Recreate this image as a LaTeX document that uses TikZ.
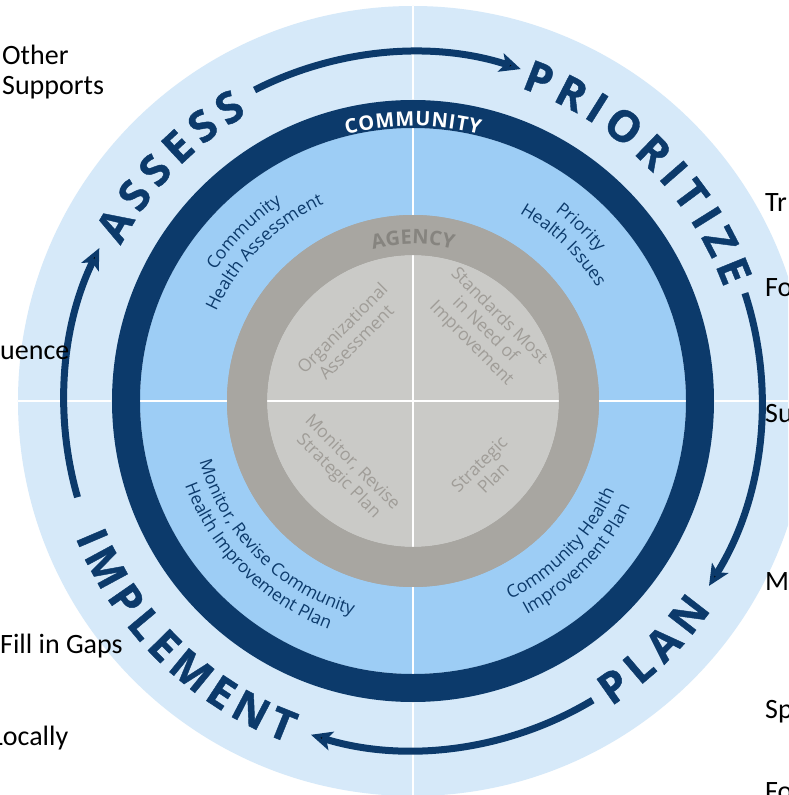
\documentclass[tikz,border=0pt]{standalone}
\usepackage{fontspec}
\setmainfont{Open Sans}
\newfontfamily\sidefont{Carlito}
\usetikzlibrary{arrows.meta,decorations.text}

\definecolor{outerblue}{HTML}{D6E9F9}
\definecolor{midblue}{HTML}{9DCDF5}
\definecolor{navy}{HTML}{0C3A6B}
\definecolor{ringgray}{HTML}{A8A6A1}
\definecolor{coregray}{HTML}{CACAC7}
\definecolor{coretext}{HTML}{A09D98}
\definecolor{agencytext}{HTML}{86847F}

\newcommand{\ringfont}{\fontsize{43}{45}\selectfont\bfseries\addfontfeature{FakeBold=1}}
\newcommand{\bandfont}{\fontsize{17.5}{19}\selectfont}

\tikzset{
  ringword/.style={decorate, decoration={text along path, text align={fit to path},
      text color=navy, text={|\ringfont|#1}}},
  bandword/.style={decorate, decoration={text along path, text align=center,
      text color=navy, text={|\bandfont|#1}}},
  cyclearrow/.style={draw=navy, line width=7pt, -{Stealth[length=21pt,width=19pt,inset=5pt]}},
  coreword/.style={align=center, text=coretext, inner sep=0pt,
      font=\fontsize{17.5}{19.5}\selectfont},
  sideword/.style={anchor=base west, inner sep=0pt, font=\sidefont\fontsize{28}{30}\selectfont}
}

\begin{document}
\begin{tikzpicture}[x=1pt, y=1pt]
\clip (-413,-394) rectangle (375,401);
\fill[white] (-413,-394) rectangle (375,401);

% Discs
\fill[outerblue] (0,0) circle (395);
\fill[midblue] (0,0) circle (273);
\fill[ringgray] (0,0) circle (186);
\fill[coregray] (0,0) circle (146);

% Cross
\draw[white, line width=2.5pt] (-395,0) -- (395,0);
\draw[white, line width=2.5pt] (0,-395) -- (0,395);

% Rings
\fill[navy, even odd rule] (0,0) circle (301) circle (273);
\fill[ringgray, even odd rule] (0,0) circle (186) circle (146);

% Cycle words
\path[ringword={ASSESS}] (152:331) arc[start angle=152, end angle=120, radius=331];
\path[ringword={PRIORITIZE}] (71:331) arc[start angle=71, end angle=20, radius=331];
\path[ringword={PLAN}] (-57:364) arc[start angle=-57, end angle=-35, radius=364];
\path[ringword={IMPLEMENT}] (202:364) arc[start angle=202, end angle=250, radius=364];

% Cycle arrows
\coordinate (toPrioritize) at (117:349);
\coordinate (toPlan) at (18:349);
\coordinate (toImplement) at (-59:349);
\coordinate (toAssess) at (196:349);
\draw[cyclearrow] (toPrioritize) arc[start angle=117, end angle=72, radius=349];
\draw[cyclearrow] (toPlan) arc[start angle=18, end angle=-32, radius=349];
\draw[cyclearrow] (toImplement) arc[start angle=-59, end angle=-107, radius=349];
\draw[cyclearrow] (toAssess) arc[start angle=196, end angle=154, radius=349];

% Ring titles
\path[decorate, decoration={text along path, text align={fit to path}, text color=white,
  text={|\fontsize{20}{22}\selectfont\bfseries|COMMUNITY}}]
  (104:275) arc[start angle=104, end angle=76, radius=275];
\path[decorate, decoration={text along path, text align=center, text color=agencytext,
  text={|\fontsize{20}{22}\selectfont\bfseries|AGENCY}}]
  (120:157) arc[start angle=120, end angle=60, radius=157];

% Community quadrants
\path[bandword={Community}] (175:237) arc[start angle=175, end angle=95, radius=237];
\path[bandword={Health Assessment}] (175:216) arc[start angle=175, end angle=95, radius=216];
\path[bandword={Priority}] (86:237) arc[start angle=86, end angle=6, radius=237];
\path[bandword={Health Issues}] (86:216) arc[start angle=86, end angle=6, radius=216];
\path[bandword={Monitor, Revise Community}] (185:222) arc[start angle=185, end angle=265, radius=222];
\path[bandword={Health Improvement Plan}] (185:243) arc[start angle=185, end angle=265, radius=243];
\path[bandword={Community Health}] (-84:221) arc[start angle=-84, end angle=-4, radius=221];
\path[bandword={Improvement Plan}] (-84:242) arc[start angle=-84, end angle=-4, radius=242];

% Agency quadrants
\node[coreword, rotate=45] (orgAssess) at (-64,66) {Organizational\\Assessment};
\node[coreword, rotate=-45] (stdMost) at (72,71) {Standards Most\\in Need of\\Improvement};
\node[coreword, rotate=-45] (monStrat) at (-68,-69) {Monitor, Revise\\Strategic Plan};
\node[coreword, rotate=45] (stratPlan) at (73,-70) {Strategic\\Plan};

% Side words
\node[sideword] (other) at (-411,336) {Other};
\node[sideword] (supports) at (-411,306) {Supports};
\node[sideword] (uence) at (-413,41) {uence};
\node[sideword] (fillGaps) at (-413,-252) {Fill in Gaps};
\node[sideword] (locally) at (-422,-344) {Locally};
\node[sideword] (rTr) at (352,189) {Tr};
\node[sideword] (rFo) at (352,104) {Fo};
\node[sideword] (rSu) at (352,-21) {Su};
\node[sideword] (rM) at (352,-189) {M};
\node[sideword] (rSp) at (352,-317) {Sp};
\node[sideword] (rFoLow) at (352,-399) {Fo};
\end{tikzpicture}
\end{document}
